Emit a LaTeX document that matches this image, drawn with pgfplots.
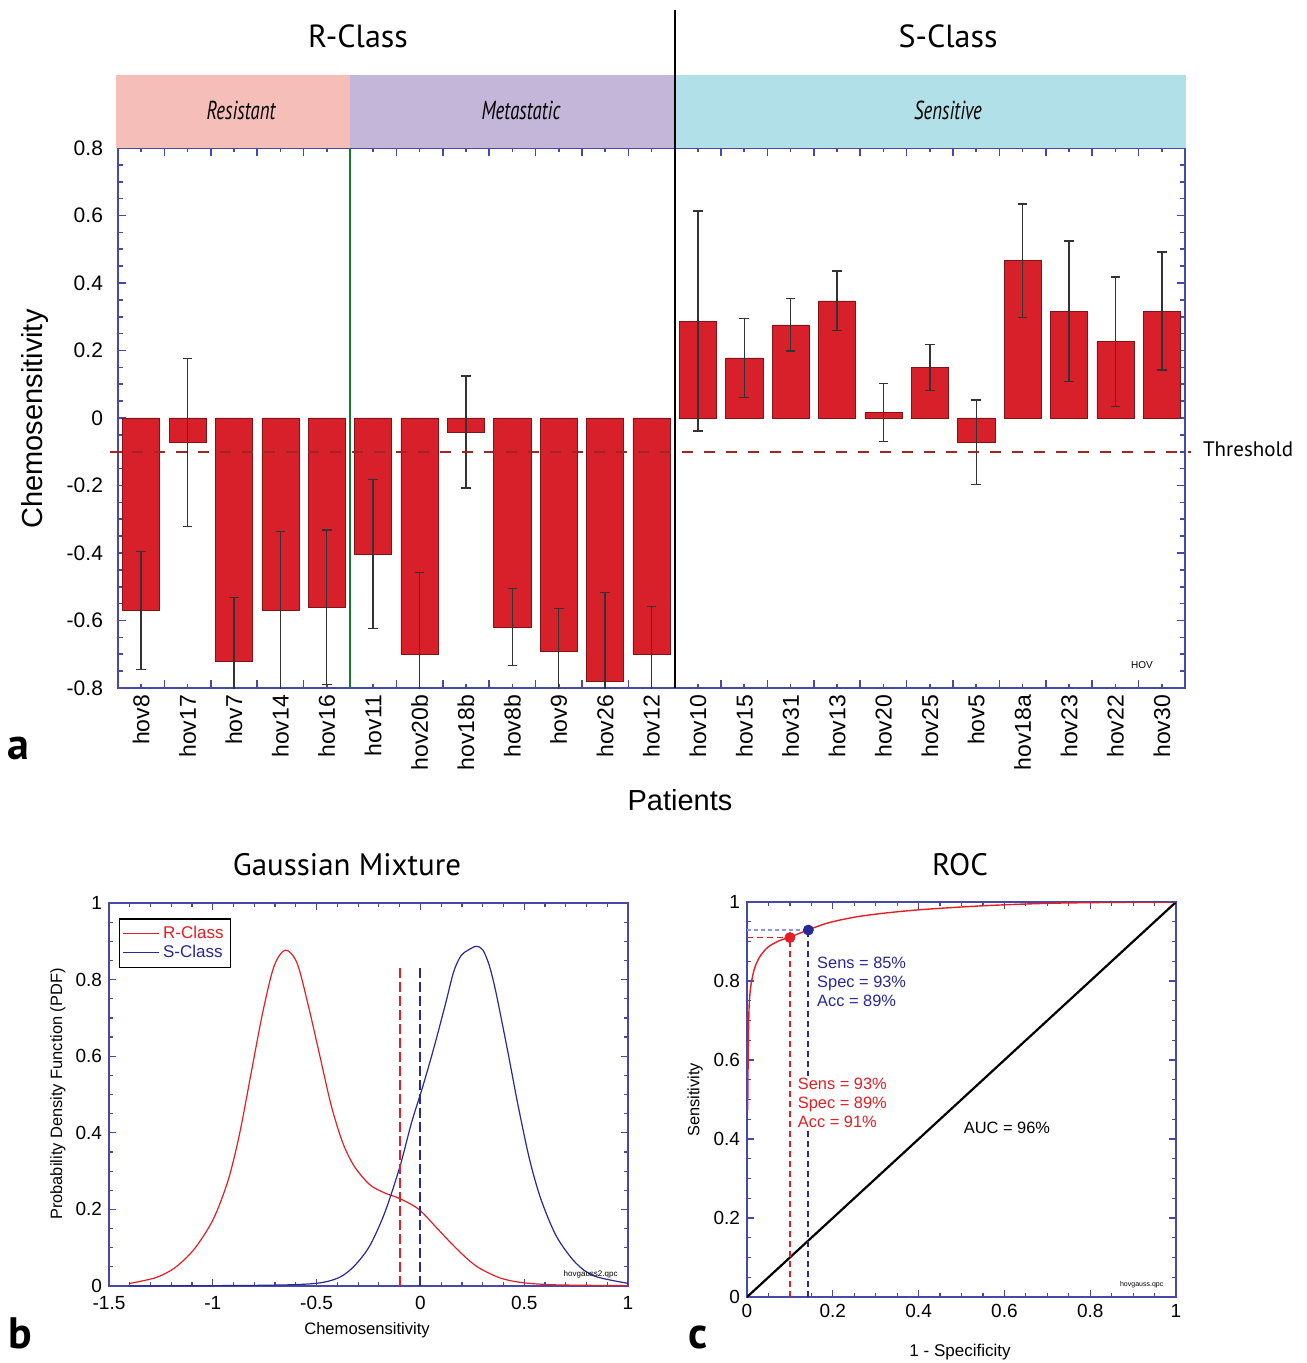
\documentclass[border=0pt]{standalone}
\usepackage{pgfplots}
\pgfplotsset{compat=1.18}
\usepackage{fontspec}
\setmainfont{Liberation Sans}
\newfontfamily\myriad{PT Sans}
\newfontfamily\myriadcond[FakeStretch=0.72]{PT Sans}

\definecolor{barred}{RGB}{215,32,42}
\definecolor{axblue}{RGB}{72,72,170}
\definecolor{thr}{RGB}{160,38,38}
\definecolor{pinkband}{RGB}{246,190,184}
\definecolor{purpband}{RGB}{196,182,216}
\definecolor{cyanband}{RGB}{178,224,232}
\definecolor{grn}{RGB}{25,120,50}
\definecolor{curvered}{RGB}{228,30,36}
\definecolor{curveblue}{RGB}{40,40,150}
\definecolor{lightblue}{RGB}{140,150,220}

\begin{document}
\begin{tikzpicture}
\path[use as bounding box] (0,0) rectangle (653pt,-681.5pt);

% ---------- panel a ----------
\begin{axis}[
  at={(59pt,-344pt)}, anchor=south west,
  width=533.5pt, height=270pt, scale only axis,
  xmin=-0.5, xmax=22.5, ymin=-0.8, ymax=0.8,
  clip mode=individual,
  axis line style={axblue, line width=1pt},
  tick style={axblue, line width=0.8pt},
  tick align=inside,
  major tick length=4pt, minor tick length=2.5pt,
  xtick={-0.5,0.5,...,22.5}, xticklabels={},
  extra x ticks={0,1,...,22},
  extra x tick labels={hov8,hov17,hov7,hov14,hov16,hov11,hov20b,hov18b,hov8b,hov9,hov26,hov12,hov10,hov15,hov31,hov13,hov20,hov25,hov5,hov18a,hov23,hov22,hov30},
  extra x tick style={grid=none, major tick length=2pt,
    tick label style={rotate=90, anchor=east, font=\fontsize{11.5}{12}\selectfont}},
  ytick={-0.8,-0.6,-0.4,-0.2,0,0.2,0.4,0.6,0.8},
  yticklabels={-0.8,-0.6,-0.4,-0.2,0,0.2,0.4,0.6,0.8},
  minor y tick num=3,
  yticklabel style={font=\fontsize{10.5}{12}\selectfont, xshift=-4pt},
]
\fill[pinkband] (axis cs:-0.54,0.8) rectangle (axis cs:4.5,1.016);
\fill[purpband] (axis cs:4.5,0.8) rectangle (axis cs:11.5,1.016);
\fill[cyanband] (axis cs:11.5,0.8) rectangle (axis cs:22.53,1.016);

\addplot[ybar, bar width=0.8, fill=barred, draw=black!40!barred, line width=0.3pt,
  error bars/.cd, y dir=both, y explicit,
  error bar style={black!80, line width=0.7pt},
  error mark options={black!80, line width=0.7pt, mark size=2.4pt, rotate=90}]
coordinates {
 (0,-0.570)  +- (0,0.175)
 (1,-0.072)  +- (0,0.249)
 (2,-0.721)  +- (0,0.190)
 (3,-0.571)  +- (0,0.234)
 (4,-0.561)  +- (0,0.229)
 (5,-0.403)  +- (0,0.221)
 (6,-0.700)  +- (0,0.242)
 (7,-0.041)  +- (0,0.166)
 (8,-0.620)  +- (0,0.114)
 (9,-0.692)  +- (0,0.127)
 (10,-0.781) +- (0,0.264)
 (11,-0.700) +- (0,0.141)
 (12,0.287)  +- (0,0.326)
 (13,0.178)  +- (0,0.117)
 (14,0.276)  +- (0,0.078)
 (15,0.347)  +- (0,0.088)
 (16,0.017)  +- (0,0.086)
 (17,0.149)  +- (0,0.068)
 (18,-0.072) +- (0,0.125)
 (19,0.466)  +- (0,0.168)
 (20,0.317)  +- (0,0.208)
 (21,0.226)  +- (0,0.192)
 (22,0.317)  +- (0,0.175)
};

\draw[thr, line width=1.2pt, dash pattern=on 5.5pt off 5.5pt] (axis cs:-0.68,-0.1) -- (axis cs:22.62,-0.1);
\draw[grn, line width=1pt] (axis cs:4.5,-0.8) -- (axis cs:4.5,0.8);
\draw[black, line width=1pt] (axis cs:11.5,-0.8) -- (axis cs:11.5,1.209);
\end{axis}

\node[font=\myriadcond\itshape\fontsize{13}{14}\selectfont] at (120.5pt,-55pt) {Resistant};
\node[font=\myriadcond\itshape\fontsize{13}{14}\selectfont] at (260.5pt,-55pt) {Metastatic};
\node[font=\myriadcond\itshape\fontsize{13}{14}\selectfont] at (474pt,-55pt) {Sensitive};
\node[font=\myriad\fontsize{16}{18}\selectfont] at (179pt,-18pt) {R-Class};
\node[font=\myriad\fontsize{16}{18}\selectfont] at (474pt,-18pt) {S-Class};
\node[font=\myriad\fontsize{10.5}{12}\selectfont, anchor=west] at (598pt,-224.5pt) {Threshold};
\node[font=\fontsize{5}{6}\selectfont] at (571pt,-332.5pt) {HOV};
\node[rotate=90, font=\fontsize{14.5}{16}\selectfont] at (17.5pt,-209.5pt) {Chemosensitivity};
\node[font=\fontsize{14.5}{16}\selectfont] at (340pt,-400pt) {Patients};
\node[font=\myriad\bfseries\fontsize{22}{24}\selectfont] at (9pt,-374pt) {a};

% ---------- panel b ----------
\begin{axis}[
  at={(54.5pt,-643pt)}, anchor=south west,
  width=259.5pt, height=191.5pt, scale only axis,
  xmin=-1.5, xmax=1, ymin=0, ymax=1,
  axis line style={axblue, line width=0.75pt},
  tick style={axblue, line width=0.6pt},
  tick align=inside,
  major tick length=3.5pt, minor tick length=2pt,
  xtick={-1.5,-1,-0.5,0,0.5,1}, xticklabels={-1.5,-1,-0.5,0,0.5,1},
  ytick={0,0.2,0.4,0.6,0.8,1}, yticklabels={0,0.2,0.4,0.6,0.8,1},
  minor x tick num=4, minor y tick num=3,
  ticklabel style={font=\fontsize{9.5}{11}\selectfont},
  xticklabel style={yshift=-1.5pt},
  legend style={at={(0.019,0.961)}, anchor=north west, draw=black, line width=0.8pt,
    font=\fontsize{8.5}{9}\selectfont, inner sep=1.5pt, row sep=-2pt},
  legend cell align=left,
  legend image code/.code={\draw[#1] (0cm,0cm) -- (0.62cm,0cm);},
]
\addplot[curvered, line width=0.6pt, smooth] coordinates {
 (-1.399,0.007) (-1.274,0.022) (-1.182,0.048) (-1.090,0.096) (-0.998,0.174)
 (-0.925,0.278) (-0.870,0.400) (-0.815,0.557) (-0.760,0.713) (-0.705,0.835)
 (-0.650,0.877) (-0.594,0.843) (-0.539,0.730) (-0.484,0.600) (-0.429,0.470)
 (-0.374,0.374) (-0.319,0.313) (-0.245,0.265) (-0.172,0.243) (-0.098,0.228)
 (-0.007,0.200) (0.085,0.148) (0.177,0.096) (0.269,0.052) (0.379,0.022)
 (0.489,0.009) (0.655,0.003) (1.0,0.001)
};
\addlegendentry{\textcolor{curvered}{R-Class}}
\addplot[curveblue, line width=0.6pt, smooth] coordinates {
 (-1.4,0.0) (-0.741,0.002) (-0.503,0.007) (-0.392,0.022) (-0.319,0.052)
 (-0.245,0.104) (-0.172,0.191) (-0.098,0.313) (-0.043,0.426) (0.012,0.522)
 (0.067,0.626) (0.122,0.739) (0.160,0.820) (0.195,0.862) (0.230,0.877)
 (0.269,0.887) (0.300,0.878) (0.330,0.840) (0.361,0.774) (0.416,0.626)
 (0.471,0.470) (0.526,0.330) (0.581,0.226) (0.655,0.130) (0.747,0.061)
 (0.838,0.026) (1.0,0.007)
};
\addlegendentry{\textcolor{curveblue}{S-Class}}
\addplot[curvered, line width=1pt, dash pattern=on 5pt off 2pt, forget plot] coordinates {(-0.1,0) (-0.1,0.833)};
\addplot[curveblue, line width=1pt, dash pattern=on 5pt off 2pt, forget plot] coordinates {(0,0) (0,0.833)};
\node[font=\fontsize{4}{5}\selectfont] at (axis cs:0.82,0.03) {hovgauss2.qpc};
\end{axis}

\node[font=\myriad\fontsize{15.5}{17}\selectfont] at (173.5pt,-432.5pt) {Gaussian Mixture};
\node[rotate=90, font=\fontsize{8.2}{9}\selectfont] at (29pt,-547pt) {Probability Density Function (PDF)};
\node[font=\fontsize{8.3}{9}\selectfont] at (183.5pt,-665pt) {Chemosensitivity};
\node[font=\myriad\bfseries\fontsize{22}{24}\selectfont, anchor=base, inner sep=0pt] at (10pt,-674pt) {b};

% ---------- panel c ----------
\begin{axis}[
  at={(373.5pt,-648.5pt)}, anchor=south west,
  width=214.5pt, height=197.5pt, scale only axis,
  xmin=0, xmax=1, ymin=0, ymax=1,
  clip mode=individual,
  axis line style={axblue, line width=0.75pt},
  tick style={axblue, line width=0.6pt},
  tick align=inside,
  major tick length=3.5pt, minor tick length=2pt,
  xtick={0,0.2,0.4,0.6,0.8,1}, xticklabels={0,0.2,0.4,0.6,0.8,1},
  ytick={0,0.2,0.4,0.6,0.8,1}, yticklabels={0,0.2,0.4,0.6,0.8,1},
  minor x tick num=3, minor y tick num=3,
  ticklabel style={font=\fontsize{9.5}{11}\selectfont},
]
\addplot[black, line width=1.1pt] coordinates {(0,0) (1,1)};
\addplot[curvered, line width=0.9pt, dash pattern=on 3pt off 2pt] coordinates {(0,0.910) (0.100,0.910)};
\addplot[curvered, line width=0.9pt, dash pattern=on 3pt off 2pt] coordinates {(0.100,0) (0.100,0.910)};
\addplot[lightblue, line width=0.7pt, dash pattern=on 2pt off 1.5pt] coordinates {(0,0.929) (0.143,0.929)};
\addplot[curveblue, line width=0.9pt, dash pattern=on 3pt off 2pt] coordinates {(0.143,0) (0.143,0.929)};
\addplot[curvered, line width=0.7pt, smooth] coordinates {
 (0.0016,0.473) (0.003,0.637) (0.005,0.738) (0.009,0.788) (0.017,0.830)
 (0.029,0.860) (0.048,0.885) (0.075,0.902) (0.0996,0.911) (0.142,0.929)
 (0.192,0.948) (0.270,0.965) (0.387,0.979) (0.542,0.990) (0.698,0.9966)
 (0.854,0.999) (1,1)
};
\addplot[only marks, mark=*, mark size=2.5pt, curvered] coordinates {(0.100,0.910)};
\addplot[only marks, mark=*, mark size=2.5pt, curveblue] coordinates {(0.143,0.929)};
\node[anchor=north west, align=left, text=curveblue, inner sep=1pt,
  font=\fontsize{8.2}{9.5}\selectfont] at (axis cs:0.158,0.866) {Sens = 85\%\\Spec = 93\%\\Acc = 89\%};
\node[anchor=north west, align=left, text=curvered, fill=white, inner sep=1pt,
  font=\fontsize{8.2}{9.5}\selectfont] at (axis cs:0.113,0.560) {Sens = 93\%\\Spec = 89\%\\Acc = 91\%};
\node[anchor=north west, inner sep=1pt, font=\fontsize{8.2}{9.5}\selectfont] at (axis cs:0.500,0.448) {AUC = 96\%};
\node[font=\fontsize{3.5}{4}\selectfont] at (axis cs:0.92,0.03) {hovgauss.qpc};
\end{axis}

\node[font=\myriad\fontsize{15.5}{17}\selectfont] at (480pt,-432.5pt) {ROC};
\node[rotate=90, font=\fontsize{8.2}{9}\selectfont] at (347.5pt,-550pt) {Sensitivity};
\node[font=\fontsize{8.5}{9}\selectfont] at (480pt,-676pt) {1 - Specificity};
\node[font=\myriad\bfseries\fontsize{22}{24}\selectfont, anchor=base, inner sep=0pt] at (349pt,-674pt) {c};
\end{tikzpicture}
\end{document}
